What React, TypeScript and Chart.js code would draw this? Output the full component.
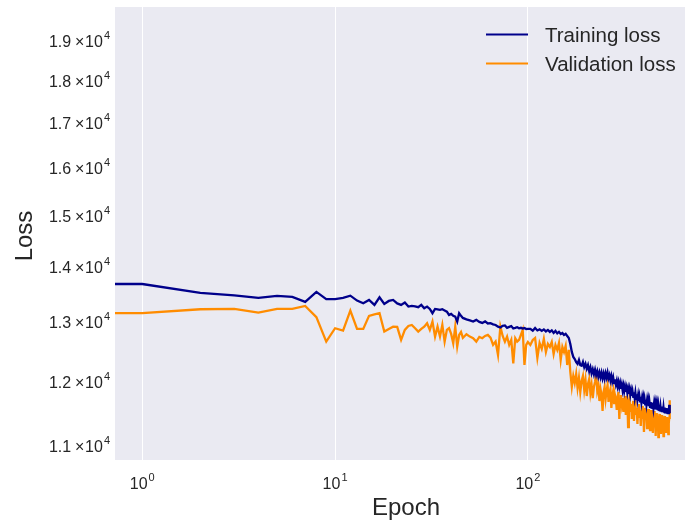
import React, { useEffect, useRef } from 'react';
import { Chart, registerables } from 'chart.js';

Chart.register(...registerables);

// ---------- data ----------
const epochs = [
  0, 1, 2, 3, 4, 5, 6, 7, 8, 9, 10, 11, 12, 13, 14, 15, 16, 17, 18, 19,
  20, 21, 22, 23, 24, 25, 26, 27, 28, 29, 30, 31, 32, 33, 34, 35, 36, 37, 38, 39,
  40, 41, 42, 43, 44, 45,
  46, 48, 50, 52, 54, 56, 58, 60, 62, 64, 66, 68, 70, 72, 74, 76, 78, 80, 82, 84,
  86, 88, 90, 92, 94, 96, 98, 100,
  103, 106, 109, 112, 115, 118, 121, 124, 127, 130, 133, 136, 139, 142, 145, 148, 151, 154, 157, 160,
  163, 166, 169, 172, 175, 178, 181, 184, 187, 190, 193, 196, 199, 202, 205, 208, 211, 214, 217, 220,
  223, 226, 229, 232, 235, 238, 241, 244, 247, 250, 253, 256, 259, 262, 265, 268, 271, 274, 277, 280,
  283, 286, 289, 292, 295, 298, 301, 304, 307, 310, 313, 316, 319, 322, 325, 328, 331, 334, 337, 340,
  343, 346, 349, 352, 355, 358, 361, 364, 367, 370, 373, 376, 379, 382, 385, 388, 391, 394, 397, 400,
  403, 406, 409, 412, 415, 418, 421, 424, 427, 430, 433, 436, 439, 442, 445, 448, 451, 454, 457, 460,
  463, 466, 469, 472, 475, 478, 481, 484, 487, 490, 493, 496, 499, 502, 505, 508, 511, 514, 517, 520,
  523, 526, 529, 532, 535, 538, 541, 544,
];

const trainingLoss = [
  13663, 13663, 13499, 13455, 13409, 13445, 13427, 13337, 13518, 13386, 13386, 13409, 13450, 13361, 13314, 13373, 13284, 13420, 13302, 13355,
  13373, 13310, 13284, 13325, 13254, 13266, 13257, 13243, 13284, 13225, 13254, 13212, 13136, 13212, 13203, 13194, 13206, 13185, 13164, 13106,
  13124, 13089, 13076, 12989, 13136, 13089,
  13053, 13027, 13009, 12990, 13018, 12983, 12965, 12992, 12956, 12960, 12940, 12930, 12900, 12885, 12915, 12921, 12880, 12896, 12910, 12870,
  12878, 12890, 12872, 12880, 12866, 12875, 12858, 12862,
  12861, 12830, 12878, 12835, 12853, 12827, 12853, 12818, 12844, 12810, 12835, 12792, 12827, 12784, 12810, 12775, 12792, 12757, 12775, 12740,
  12706, 12604, 12469, 12385, 12350, 12300, 12270, 12335, 12250, 12240, 12300, 12215, 12270, 12190, 12250, 12150, 12215, 12115, 12180, 12100,
  12175, 12085, 12150, 12060, 12130, 12050, 12125, 12035, 12110, 12030, 12115, 12045, 12125, 12035, 12085, 12000, 12070, 11980, 12045, 11955,
  12020, 11935, 11995, 11905, 11972, 11890, 11955, 11865, 11930, 11842, 11915, 11826, 11900, 11818, 11882, 11800, 11868, 11786, 11858, 11770,
  11835, 11752, 11820, 11738, 11810, 11720, 11802, 11705, 11778, 11690, 11762, 11675, 11745, 11667, 11738, 11650, 11722, 11643, 11715, 11628,
  11698, 11620, 11690, 11612, 11684, 11604, 11676, 11590, 11660, 11580, 11652, 11573, 11644, 11566, 11637, 11558, 11629, 11550, 11621, 11542,
  11613, 11535, 11606, 11527, 11598, 11519, 11598, 11511, 11582, 11504, 11582, 11496, 11575, 11496, 11567, 11488, 11567, 11480, 11559, 11480,
  11559, 11473, 11551, 11465, 11551, 11465, 11610, 11480,
];

const validationLoss = [
  13136, 13136, 13206, 13212, 13146, 13212, 13212, 13266, 13066, 12643, 12873, 12832, 13182, 12861, 12861, 13089, 13115, 13136, 12815, 12861,
  12901, 12896, 12672, 12844, 12913, 12930, 12873, 12815, 12861, 12901, 12960, 12844, 12989, 12729, 12901, 12729, 12930, 12643, 12844, 12873,
  12775, 12615, 12901, 12559, 12757, 12809,
  12706, 12769, 12729, 12701, 12643, 12723, 12701, 12740, 12757, 12711, 12587, 12643, 12418, 12901, 12740, 12643, 12729, 12587, 12672, 12279,
  12701, 12643, 12672, 12757, 12844, 12251, 12587, 12638,
  12587, 12672, 12706, 12368, 12621, 12520, 12689, 12469, 12604, 12553, 12638, 12435, 12587, 12503, 12621, 12334, 12553, 12469, 12570, 12251,
  12503, 12136, 11894, 12072, 11958, 12104, 11878, 12039, 11814, 11991, 12072, 11846, 12007, 11750, 11942, 12023, 11798, 11926, 11718, 11894,
  11974, 12120, 11830, 11910, 11671, 11862, 11766, 11516, 11814, 11894, 11703, 11830, 11926, 11656, 11798, 11862, 11562, 11750, 11830, 11640,
  11766, 11703, 11531, 11734, 11814, 11392, 11687, 11766, 11624, 11718, 11500, 11671, 11750, 11454, 11640, 11703, 11270, 11609, 11687, 11500,
  11624, 11393, 11593, 11671, 11362, 11578, 11640, 11470, 11562, 11316, 11547, 11624, 11408, 11531, 11285, 11516, 11593, 11393, 11500, 11194,
  11485, 11562, 11377, 11470, 11254, 11470, 11547, 11346, 11454, 11224, 11439, 11531, 11316, 11423, 11179, 11439, 11516, 11300, 11408, 11134,
  11392, 11485, 11270, 11392, 11119, 11377, 11470, 11254, 11377, 11164, 11362, 11454, 11239, 11362, 11134, 11346, 11439, 11224, 11362, 11179,
  11331, 11423, 11209, 11346, 11164, 11331, 11408, 11685,
];

const seriesNames = ['Training loss', 'Validation loss'];
const seriesColors = ['#00008B', '#FF8C00'];

const xTickValues = [1, 10, 100];
const yTickValues = [11000, 12000, 13000, 14000, 15000, 16000, 17000, 18000, 19000];
const xLimits = [0.722, 653];
const yLimits = [10780, 19840];

// ---------- styling ----------
const FONT = '"Liberation Sans", Arial, Helvetica, sans-serif';
const TEXT = '#262626';
const TICK_SIZE = 16;
const SUP_SIZE = 11;
const SUP_RISE = 8;

function drawSci(
  ctx: CanvasRenderingContext2D,
  mant: string | null,
  exp: string,
  x: number,
  baseline: number,
  align: 'right' | 'center'
) {
  const mainF = `${TICK_SIZE}px ${FONT}`;
  const supF = `${SUP_SIZE}px ${FONT}`;
  ctx.font = mainF;
  const wm = mant ? ctx.measureText(mant).width : 0;
  const wt = mant ? ctx.measureText('×').width : 0;
  const wb = ctx.measureText('10').width;
  ctx.font = supF;
  const ws = ctx.measureText(exp).width;
  const g1 = mant ? 3.8 : 0;
  const g2 = mant ? 0.8 : 0;
  const g3 = 1;
  const total = wm + g1 + wt + g2 + wb + g3 + ws;
  let left = align === 'right' ? x - total : x - total / 2;
  ctx.textAlign = 'left';
  ctx.textBaseline = 'alphabetic';
  ctx.font = mainF;
  if (mant) {
    ctx.fillText(mant, left, baseline);
    left += wm + g1;
    ctx.fillText('×', left, baseline);
    left += wt + g2;
  }
  ctx.fillText('10', left, baseline);
  left += wb + g3;
  ctx.font = supF;
  ctx.fillText(exp, left, baseline - SUP_RISE);
}

const decorPlugin = {
  id: 'decor',
  beforeDraw(chart: any) {
    const { ctx, chartArea: a } = chart;
    ctx.save();
    ctx.fillStyle = '#FFFFFF';
    ctx.fillRect(0, 0, chart.width, chart.height);
    ctx.fillStyle = '#EAEAF2';
    ctx.fillRect(a.left, a.top, a.right - a.left, a.bottom - a.top);
    ctx.restore();
  },
  afterDraw(chart: any) {
    const ctx: CanvasRenderingContext2D = chart.ctx;
    const xs = chart.scales.x;
    const ys = chart.scales.y;
    ctx.save();
    ctx.fillStyle = TEXT;

    // y tick labels
    for (const v of yTickValues) {
      const py = ys.getPixelForValue(v);
      const mant = (v / 10000).toFixed(1);
      drawSci(ctx, mant, '4', 110, py + 7.5, 'right');
    }
    // x tick labels
    for (const v of xTickValues) {
      const px = xs.getPixelForValue(v);
      const exp = String(Math.round(Math.log10(v)));
      drawSci(ctx, null, exp, px, 489, 'center');
    }

    // axis titles
    ctx.font = `24px ${FONT}`;
    ctx.textAlign = 'center';
    ctx.textBaseline = 'alphabetic';
    ctx.fillText('Epoch', 406, 515);
    ctx.save();
    ctx.translate(32, 236);
    ctx.rotate(-Math.PI / 2);
    ctx.fillText('Loss', 0, 0);
    ctx.restore();

    // legend
    const rows = [34.5, 63.5];
    ctx.font = `20.5px ${FONT}`;
    ctx.textAlign = 'left';
    seriesNames.forEach((name, i) => {
      const y = rows[i];
      ctx.strokeStyle = seriesColors[i];
      ctx.lineWidth = 2.2;
      ctx.beginPath();
      ctx.moveTo(486, y);
      ctx.lineTo(528, y);
      ctx.stroke();
      ctx.fillStyle = TEXT;
      ctx.fillText(name, 545, y + 7.4);
    });
    ctx.restore();
  },
};

export default function App() {
  const canvasRef = useRef<HTMLCanvasElement | null>(null);

  useEffect(() => {
    const canvas = canvasRef.current;
    if (!canvas) return;
    const chart = new Chart(canvas, {
      type: 'line',
      data: {
        datasets: [
          {
            label: seriesNames[0],
            data: epochs.map((e, i) => ({ x: e, y: trainingLoss[i] })),
            borderColor: seriesColors[0],
            borderWidth: 2.3,
            pointRadius: 0,
            tension: 0,
            fill: false,
          },
          {
            label: seriesNames[1],
            data: epochs.map((e, i) => ({ x: e, y: validationLoss[i] })),
            borderColor: seriesColors[1],
            borderWidth: 2.3,
            pointRadius: 0,
            tension: 0,
            fill: false,
          },
        ],
      },
      options: {
        animation: false,
        responsive: false,
        devicePixelRatio: 1,
        events: [],
        layout: { padding: { left: 115, right: 0, top: 7, bottom: 62 } },
        plugins: {
          legend: { display: false },
          tooltip: { enabled: false },
          title: { display: false },
        },
        scales: {
          x: {
            type: 'logarithmic',
            min: xLimits[0],
            max: xLimits[1],
            bounds: 'data',
            offset: false,
            border: { display: false },
            grid: { display: true, color: '#FFFFFF', lineWidth: 1, drawTicks: false },
            ticks: { display: false },
            afterBuildTicks: (s: any) => {
              s.ticks = xTickValues.map((v) => ({ value: v }));
            },
            afterFit: (s: any) => {
              s.height = 0;
            },
          },
          y: {
            type: 'logarithmic',
            min: yLimits[0],
            max: yLimits[1],
            bounds: 'data',
            border: { display: false },
            grid: { display: false, drawTicks: false },
            ticks: { display: false },
            afterBuildTicks: (s: any) => {
              s.ticks = yTickValues.map((v) => ({ value: v }));
            },
            afterFit: (s: any) => {
              s.width = 0;
            },
          },
        },
      },
      plugins: [decorPlugin],
    } as any);
    return () => chart.destroy();
  }, []);

  return (
    <div style={{ position: 'fixed', left: 0, top: 0, width: 685, height: 522, background: '#fff' }}>
      <canvas ref={canvasRef} width={685} height={522} />
    </div>
  );
}
